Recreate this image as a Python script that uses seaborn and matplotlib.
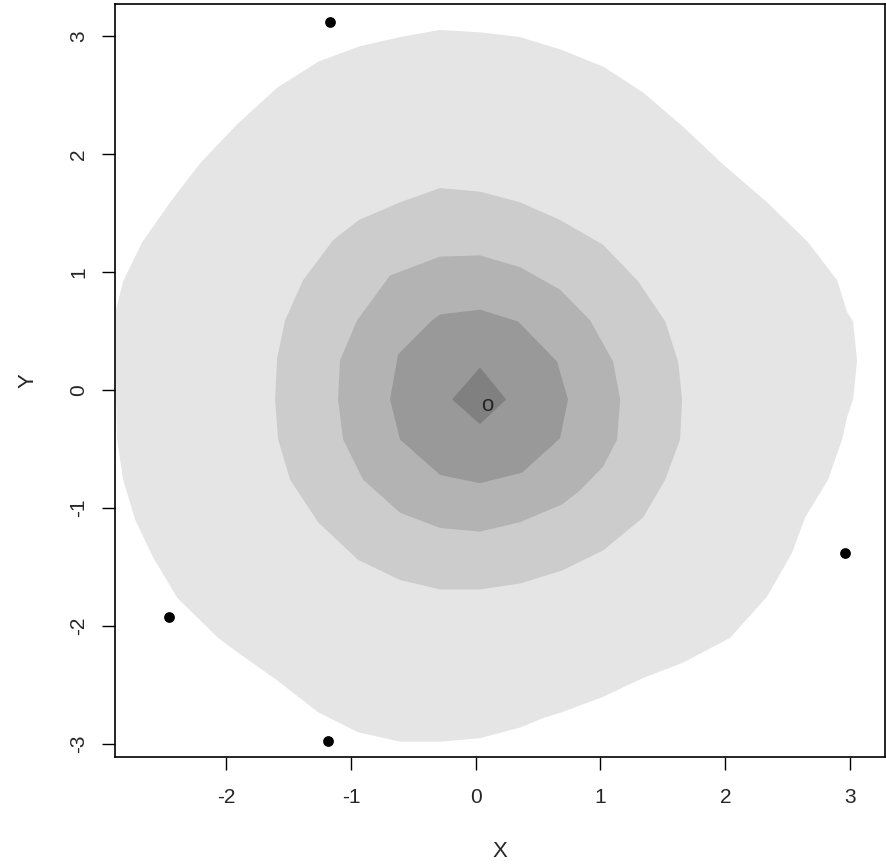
import matplotlib
matplotlib.use("Agg")
import matplotlib.pyplot as plt
import pandas as pd
import seaborn as sns

# depth regions, outermost first (data units)
outer_x = [-0.285, 0.035, 0.356, 0.692, 1.021, 1.342, 1.662, 1.983, 2.335, 2.664, 2.896, 2.976,
           3.024, 3.056, 3.040, 3.024, 2.976, 2.936, 2.824, 2.640, 2.535, 2.335, 2.039, 1.662,
           1.342, 1.021, 0.692, 0.540, 0.356, 0.035, -0.285, -0.606, -0.942, -1.263, -1.591,
           -1.912, -2.064, -2.392, -2.584, -2.728, -2.825, -2.873, -2.881, -2.881, -2.825,
           -2.673, -2.448, -2.208, -1.912, -1.591, -1.263, -0.935, -0.606]
outer_y = [3.05, 3.03, 2.99, 2.88, 2.74, 2.52, 2.23, 1.91, 1.59, 1.25, 0.93, 0.66,
           0.58, 0.25, 0.08, -0.08, -0.23, -0.42, -0.76, -1.08, -1.38, -1.75, -2.10, -2.31,
           -2.44, -2.60, -2.73, -2.78, -2.86, -2.95, -2.98, -2.98, -2.90, -2.73, -2.46,
           -2.22, -2.10, -1.76, -1.42, -1.10, -0.76, -0.42, -0.08, 0.68, 0.92,
           1.25, 1.59, 1.92, 2.25, 2.56, 2.78, 2.91, 2.99]

ring2_x = [-0.285, 0.035, 0.356, 0.676, 1.021, 1.302, 1.519, 1.622, 1.654, 1.638, 1.519, 1.342,
           1.021, 0.692, 0.356, 0.035, -0.285, -0.606, -0.942, -1.263, -1.487, -1.583, -1.607,
           -1.591, -1.527, -1.383, -1.142, -0.935, -0.606]
ring2_y = [1.71, 1.68, 1.59, 1.44, 1.23, 0.92, 0.58, 0.24, -0.08, -0.42, -0.76, -1.08,
           -1.36, -1.53, -1.64, -1.69, -1.69, -1.61, -1.44, -1.12, -0.76, -0.42, -0.08,
           0.27, 0.59, 0.93, 1.27, 1.44, 1.59]

ring3_x = [-0.285, 0.035, 0.356, 0.676, 0.917, 1.101, 1.158, 1.133, 1.021, 0.837, 0.692, 0.356,
           0.035, -0.285, -0.606, -0.902, -1.062, -1.103, -1.087, -0.950, -0.686]
ring3_y = [1.13, 1.14, 1.04, 0.85, 0.59, 0.24, -0.08, -0.42, -0.65, -0.85, -0.97, -1.12,
           -1.20, -1.17, -1.04, -0.76, -0.42, -0.08, 0.25, 0.59, 0.97]

ring4_x = [0.035, 0.340, 0.652, 0.740, 0.676, 0.372, 0.035, -0.285, -0.606, -0.686, -0.622,
           -0.349, -0.285]
ring4_y = [0.68, 0.58, 0.24, -0.08, -0.41, -0.70, -0.79, -0.72, -0.42, -0.08, 0.30,
           0.59, 0.64]

ring5_x = [0.035, 0.244, 0.035, -0.189]
ring5_y = [0.19, -0.08, -0.29, -0.08]

region_colors = ["#e5e5e5", "#cccccc", "#b3b3b3", "#999999", "#808080"]

outlier_x = [-1.167, -2.457, -1.180, 2.960]
outlier_y = [3.12, -1.92, -2.97, -1.38]

center_x = 0.09
center_y = -0.13

sns.set_style("white")
plt.rcParams["font.family"] = ["Liberation Sans", "DejaVu Sans"]
plt.rcParams["axes.unicode_minus"] = False

fig = plt.figure(figsize=(8.86, 8.64), dpi=100)
ax = fig.add_axes([0.1298, 0.1238, 0.8691, 0.8716])

regions = [(outer_x, outer_y), (ring2_x, ring2_y), (ring3_x, ring3_y),
           (ring4_x, ring4_y), (ring5_x, ring5_y)]
for (px, py), col in zip(regions, region_colors):
    ax.fill(px, py, color=col, linewidth=0, zorder=1)

pts = pd.DataFrame({"x": outlier_x, "y": outlier_y})
sns.scatterplot(data=pts, x="x", y="y", ax=ax, color="black", s=60,
                edgecolor="black", linewidth=0, zorder=3)

ax.text(center_x, center_y, "o", ha="center", va="center", fontsize=16, zorder=4)

ax.set_xlim(-2.89, 3.28)
ax.set_ylim(-3.11, 3.27)
ax.set_xticks([-2, -1, 0, 1, 2, 3])
ax.set_yticks([-3, -2, -1, 0, 1, 2, 3])
ax.tick_params(axis="both", direction="out", length=9.5, width=1.0, labelsize=15,
               bottom=True, left=True, color="black")
ax.tick_params(axis="x", pad=13)
ax.tick_params(axis="y", pad=10)
for lab in ax.get_yticklabels():
    lab.set_rotation(90)
    lab.set_va("center")
for sp in ax.spines.values():
    sp.set_visible(True)
    sp.set_color("black")
    sp.set_linewidth(1.2)

ax.set_xlabel("X", fontsize=16, labelpad=24)
ax.set_ylabel("Y", fontsize=16, labelpad=22, rotation=90)

fig.savefig("out.png", dpi=100)
